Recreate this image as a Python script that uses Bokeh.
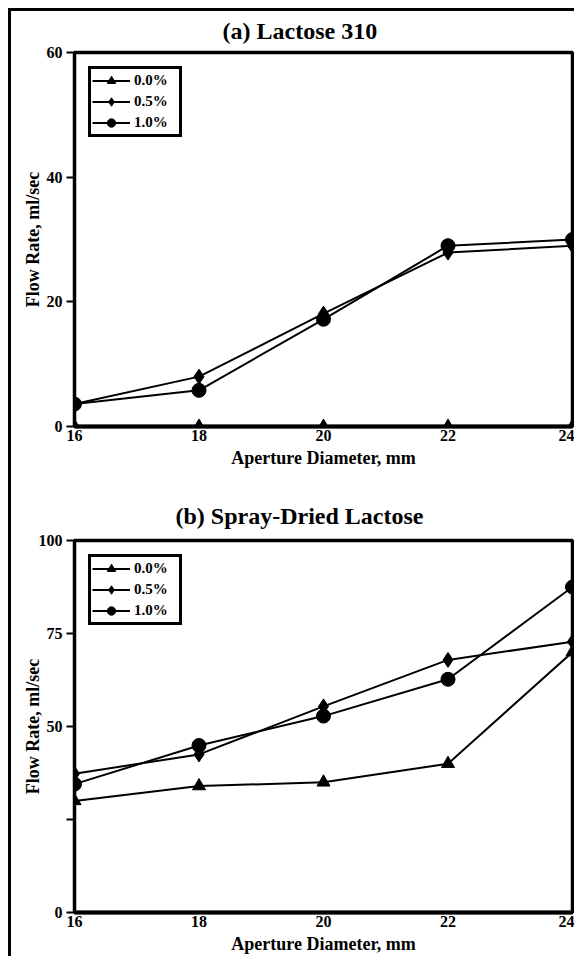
from bokeh.plotting import figure
from bokeh.layouts import column
from bokeh.models import Range1d, FixedTicker, Legend, LegendItem, Title
from bokeh.embed import file_html
from bokeh.resources import INLINE

# ---- data ----
aperture = [16, 18, 20, 22, 24]
series_labels = ["0.0%", "0.5%", "1.0%"]
a_0_0 = [0, 0, 0, 0, 0]
a_0_5 = [3.6, 8.0, 18.1, 27.9, 29.0]
a_1_0 = [3.6, 5.8, 17.2, 29.0, 30.0]
b_0_0 = [30.0, 34.0, 35.0, 40.0, 70.0]
b_0_5 = [37.3, 42.5, 55.4, 67.9, 72.8]
b_1_0 = [34.5, 44.9, 52.8, 62.7, 87.5]
x_ticks = [16, 18, 20, 22, 24]
a_y_ticks = [0, 20, 40, 60]
b_y_ticks = [0, 25, 50, 75, 100]
b_y_tick_labels = {0: "0", 25: "", 50: "50", 75: "75", 100: "100"}
title_a = "(a) Lactose 310"
title_b = "(b) Spray-Dried Lactose"
x_label = "Aperture Diameter, mm"
y_label = "Flow Rate, ml/sec"

FONT = "Liberation Serif"
markers = ["triangle", "diamond", "circle"]
msizes = [13, 15, 14]


def panel(title, title_offset, title_standoff, series, yticks, yend, overrides,
          height, top, bottom, als):
    p = figure(width=563, height=height, x_range=Range1d(16, 24), y_range=Range1d(0, yend),
               output_backend="svg", toolbar_location=None,
               min_border_left=63, min_border_right=2, min_border_top=top,
               min_border_bottom=bottom)
    p.title = None
    t = Title(text=title, align="left", offset=title_offset, vertical_align="top",
              text_font=FONT, text_font_size="24px", text_font_style="bold",
              text_color="black", standoff=title_standoff)
    p.add_layout(t, "above")
    p.grid.visible = False
    p.outline_line_color = "black"
    p.outline_line_width = 3.5
    p.outline_line_alpha = 1.0
    p.background_fill_color = "white"
    p.border_fill_color = "white"

    xa = p.xaxis[0]
    xa.ticker = FixedTicker(ticks=x_ticks)
    xa.major_tick_out = 0
    xa.major_tick_in = 0
    xa.minor_tick_out = 0
    xa.minor_tick_in = 0
    xa.axis_line_width = 4
    xa.axis_line_color = "black"
    xa.major_label_text_font = FONT
    xa.major_label_text_font_size = "16px"
    xa.major_label_text_font_style = "bold"
    xa.major_label_text_color = "black"
    xa.major_label_standoff = 3
    xa.axis_label = x_label
    xa.axis_label_text_font = FONT
    xa.axis_label_text_font_size = "18px"
    xa.axis_label_text_font_style = "bold"
    xa.axis_label_text_color = "black"
    xa.axis_label_standoff = 4

    ya = p.yaxis[0]
    ya.ticker = FixedTicker(ticks=yticks)
    ya.major_label_overrides = overrides
    ya.major_tick_out = 8
    ya.major_tick_in = 0
    ya.major_tick_line_width = 2
    ya.minor_tick_out = 0
    ya.minor_tick_in = 0
    ya.axis_line_width = 2.5
    ya.axis_line_color = "black"
    ya.major_label_text_font = FONT
    ya.major_label_text_font_size = "16px"
    ya.major_label_text_font_style = "bold"
    ya.major_label_text_color = "black"
    ya.major_label_standoff = 4
    ya.axis_label = y_label
    ya.axis_label_text_font = FONT
    ya.axis_label_text_font_size = "18px"
    ya.axis_label_text_font_style = "bold"
    ya.axis_label_text_color = "black"
    ya.axis_label_standoff = als

    items = []
    for lab, ys, mk, ms in zip(series_labels, series, markers, msizes):
        r1 = p.line(aperture, ys, line_color="black", line_width=2)
        r2 = p.scatter(aperture, ys, marker=mk, size=ms, fill_color="black", line_color="black")
        items.append(LegendItem(label=lab, renderers=[r1, r2]))

    leg = Legend(items=items, location="top_left", margin=14, padding=1, spacing=0,
                 glyph_width=38, glyph_height=21, label_height=20, label_width=44,
                 label_standoff=4,
                 label_text_font=FONT, label_text_font_size="15px", label_text_font_style="bold",
                 label_text_color="black", border_line_color="black", border_line_width=3,
                 border_line_alpha=1.0, background_fill_color="white", background_fill_alpha=1.0)
    p.add_layout(leg)
    return p


pa = panel(title_a, 148, 13, [a_0_0, a_0_5, a_1_0], a_y_ticks, 60, {}, 469, 41, 54, 1)
pb = panel(title_b, 101, 19, [b_0_0, b_0_5, b_1_0], b_y_ticks, 100, b_y_tick_labels,
           476, 60, 44, -7)

layout = column(pa, pb, spacing=0, margin=(8, 0, 0, 8),
                styles={"border-left": "3px solid black", "border-top": "3px solid black"})

open("out.html", "w").write(file_html(layout, INLINE))
